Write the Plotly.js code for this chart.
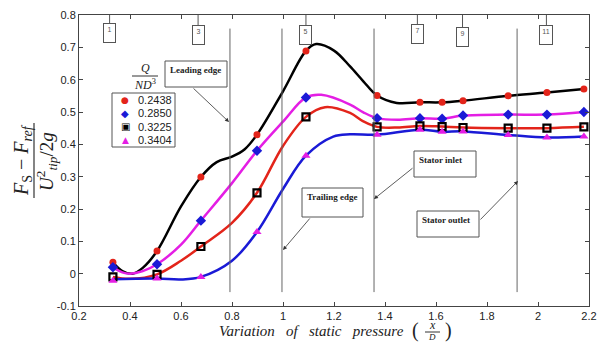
<!DOCTYPE html>
<html>
<head>
<meta charset="utf-8">
<script src="https://cdn.plot.ly/plotly-3.0.1.min.js"></script>
<style>html,body{margin:0;padding:0;background:#fff;}#chart{width:608px;height:342px;}</style>
</head>
<body>
<div id="chart"></div>
<script>
// ---- data ----
const probeX = [0.333, 0.506, 0.678, 0.898, 1.09, 1.369, 1.537, 1.624, 1.706, 1.883, 2.035, 2.18];
const flowLabels = ['0.2438', '0.2850', '0.3225', '0.3404'];
const q2438 = [0.035, 0.070, 0.299, 0.430, 0.689, 0.551, 0.530, 0.530, 0.535, 0.550, 0.560, 0.571];
const q2850 = [0.020, 0.029, 0.164, 0.380, 0.545, 0.481, 0.481, 0.479, 0.489, 0.492, 0.492, 0.500];
const q3225 = [-0.010, -0.002, 0.084, 0.250, 0.485, 0.454, 0.457, 0.455, 0.452, 0.450, 0.450, 0.454];
const q3404 = [-0.022, -0.015, -0.010, 0.129, 0.365, 0.430, 0.445, 0.439, 0.440, 0.429, 0.421, 0.424];

// fitted curves as drawn in the picture
const curve2438X = [0.333, 0.37, 0.41, 0.45, 0.506, 0.60, 0.678, 0.74, 0.80, 0.85, 0.898, 1.0, 1.09, 1.13, 1.20, 1.263, 1.315, 1.369, 1.446, 1.537, 1.624, 1.706, 1.883, 2.035, 2.18];
const curve2438Y = [0.035, 0.008, 0.000, 0.018, 0.070, 0.208, 0.299, 0.345, 0.362, 0.385, 0.430, 0.564, 0.689, 0.710, 0.690, 0.641, 0.595, 0.551, 0.528, 0.530, 0.530, 0.535, 0.550, 0.560, 0.571];
const curve2850X = [0.333, 0.37, 0.40, 0.45, 0.506, 0.60, 0.678, 0.80, 0.898, 1.0, 1.09, 1.15, 1.263, 1.315, 1.369, 1.45, 1.537, 1.624, 1.706, 1.883, 2.035, 2.18];
const curve2850Y = [0.020, 0.004, 0.000, 0.008, 0.029, 0.090, 0.164, 0.280, 0.380, 0.470, 0.545, 0.553, 0.523, 0.499, 0.481, 0.476, 0.481, 0.479, 0.489, 0.492, 0.492, 0.500];
const curve3225X = [0.333, 0.40, 0.506, 0.60, 0.678, 0.80, 0.898, 1.0, 1.09, 1.165, 1.263, 1.315, 1.369, 1.45, 1.537, 1.624, 1.706, 1.883, 2.035, 2.18];
const curve3225Y = [-0.010, -0.016, -0.002, 0.040, 0.084, 0.157, 0.250, 0.395, 0.485, 0.515, 0.497, 0.471, 0.454, 0.452, 0.457, 0.455, 0.452, 0.450, 0.450, 0.454];
const curve3404X = [0.333, 0.506, 0.60, 0.678, 0.80, 0.898, 1.0, 1.09, 1.197, 1.263, 1.369, 1.537, 1.624, 1.706, 1.883, 2.035, 2.18];
const curve3404Y = [-0.017, -0.015, -0.018, -0.010, 0.040, 0.129, 0.262, 0.365, 0.424, 0.431, 0.430, 0.445, 0.439, 0.440, 0.429, 0.421, 0.424];

const xTickVals = [0.2, 0.4, 0.6, 0.8, 1.0, 1.2, 1.4, 1.6, 1.8, 2.0, 2.2];
const xTickText = ['0.2', '0.4', '0.6', '0.8', '1', '1.2', '1.4', '1.6', '1.8', '2', '2.2'];
const yTickVals = [-0.1, 0, 0.1, 0.2, 0.3, 0.4, 0.5, 0.6, 0.7, 0.8];
const yTickText = ['-0.1', '0', '0.1', '0.2', '0.3', '0.4', '0.5', '0.6', '0.7', '0.8'];

const edgeLinesX = [0.792, 0.996, 1.357, 1.918];
const probeLabels = ['1', '3', '5', '7', '9', '11'];
const probeLabelX = [0.32, 0.667, 1.09, 1.527, 1.704, 2.033];

// ---- styling ----
const lineColors = ['#000000', '#e41ee4', '#e3241a', '#1a1ad6'];
const markerColors = ['#e3241a', '#1a1ad6', '#000000', '#e41ee4'];
const markerSymbols = ['circle', 'diamond', 'square-open', 'triangle-up'];
const markerSizes = [7, 8, 7, 8];

const curvesX = [curve2438X, curve2850X, curve3225X, curve3404X];
const curvesY = [curve2438Y, curve2850Y, curve3225Y, curve3404Y];
const seriesY = [q2438, q2850, q3225, q3404];

const traces = [];
for (let i = 0; i < 4; i++) {
  traces.push({
    x: curvesX[i], y: curvesY[i], type: 'scatter', mode: 'lines',
    line: {color: lineColors[i], width: 2.5, shape: 'spline', smoothing: 1},
    showlegend: false, hoverinfo: 'skip'
  });
}
for (let i = 0; i < 4; i++) {
  traces.push({
    x: probeX, y: seriesY[i], type: 'scatter', mode: 'markers', name: flowLabels[i],
    marker: {symbol: markerSymbols[i], size: markerSizes[i], color: markerColors[i],
             line: {color: markerColors[i], width: i === 2 ? 2.2 : 0}},
    showlegend: false
  });
}

const L = 79, R = 589, T = 15, B = 306;
const PX = p => (p - L) / (R - L);
const PY = p => (B - p) / (B - T);

const shapes = [];
const annotations = [];
const gray = '#555';

edgeLinesX.forEach(x => shapes.push({type: 'line', xref: 'x', yref: 'y', x0: x, x1: x, y0: -0.057, y1: 0.758,
  line: {color: '#666', width: 1}}));

const probeBoxTop = [23, 25, 25, 24, 27, 25];
probeLabelX.forEach((x, i) => {
  shapes.push({type: 'line', xref: 'x', yref: 'paper', x0: x, x1: x, y0: 1, y1: PY(probeBoxTop[i]),
    line: {color: gray, width: 1}});
  annotations.push({xref: 'x', yref: 'paper', x: x, y: PY(probeBoxTop[i]), xanchor: 'center', yanchor: 'top',
    text: probeLabels[i], showarrow: false, font: {family: 'Liberation Sans', size: 7, color: '#555'},
    bordercolor: gray, borderwidth: 1, borderpad: 2, width: i === 5 ? 8 : 7, height: 14, valign: 'top'});
});

// callout boxes
const boxes = [
  {t: 'Leading edge', x0: 165, y0: 61, w: 62, h: 26},
  {t: 'Stator inlet', x0: 414, y0: 151, w: 62, h: 26},
  {t: 'Trailing edge', x0: 302, y0: 188, w: 61, h: 29},
  {t: 'Stator outlet', x0: 417, y0: 211, w: 62, h: 26}
];
boxes.forEach(b => {
  shapes.push({type: 'rect', xref: 'paper', yref: 'paper', x0: PX(b.x0), x1: PX(b.x0 + b.w), y0: PY(b.y0), y1: PY(b.y0 + b.h),
    line: {color: gray, width: 1}, fillcolor: 'white'});
  annotations.push({xref: 'paper', yref: 'paper', x: PX(b.x0 + 3), y: PY(b.y0 + 2), xanchor: 'left', yanchor: 'top',
    text: '<b>' + b.t + '</b>', showarrow: false, font: {family: 'Liberation Serif', size: 9, color: '#222'}});
});
const arrows = [
  {tx: 192, ty: 87, hx: 229, hy: 122},
  {tx: 414, ty: 167, hx: 374, hy: 199},
  {tx: 311, ty: 217, hx: 283, hy: 250},
  {tx: 479, ty: 221, hx: 518, hy: 181}
];
arrows.forEach(a => annotations.push({xref: 'paper', yref: 'paper', x: PX(a.hx), y: PY(a.hy), ax: a.tx - a.hx, ay: a.ty - a.hy,
  text: '', showarrow: true, arrowhead: 2, arrowsize: 1, arrowwidth: 0.8, arrowcolor: '#333', standoff: 0}));

// legend
shapes.push({type: 'rect', xref: 'paper', yref: 'paper', x0: PX(112), x1: PX(175), y0: PY(93), y1: PY(147),
  line: {color: gray, width: 1}, fillcolor: 'white'});
const legSym = ['●', '◆', '▣', '▲'];
const legSymSize = [9, 10, 10, 9];
const legY = [100, 113, 127, 140];
for (let i = 0; i < 4; i++) {
  annotations.push({xref: 'paper', yref: 'paper', x: PX(125), y: PY(legY[i]), xanchor: 'center', yanchor: 'middle',
    text: legSym[i], showarrow: false,
    font: {family: 'DejaVu Sans', size: legSymSize[i], color: markerColors[i]}});
  annotations.push({xref: 'paper', yref: 'paper', x: PX(136), y: PY(legY[i]), xanchor: 'left', yanchor: 'middle',
    text: flowLabels[i], showarrow: false, font: {family: 'Liberation Sans', size: 11, color: '#222'}});
}
annotations.push({xref: 'paper', yref: 'paper', x: PX(145), y: PY(68), xanchor: 'center', yanchor: 'middle',
  text: '<i>Q</i>', showarrow: false, font: {family: 'Liberation Serif', size: 12, color: '#222'}});
shapes.push({type: 'line', xref: 'paper', yref: 'paper', x0: PX(132), x1: PX(158), y0: PY(76), y1: PY(76), line: {color: '#333', width: 1}});
annotations.push({xref: 'paper', yref: 'paper', x: PX(145), y: PY(84), xanchor: 'center', yanchor: 'middle',
  text: '<i>ND</i><sup>3</sup>', showarrow: false, font: {family: 'Liberation Serif', size: 12, color: '#222'}});

// y-axis title (fraction, rotated)
annotations.push({xref: 'paper', yref: 'paper', x: PX(22), y: PY(160), xanchor: 'center', yanchor: 'middle', textangle: -90,
  text: '<i>F</i><sub>S</sub> − <i>F</i><sub><i>ref</i></sub>', showarrow: false,
  font: {family: 'Liberation Serif', size: 20, color: '#222'}});
shapes.push({type: 'line', xref: 'paper', yref: 'paper', x0: PX(34), x1: PX(34), y0: PY(123), y1: PY(198), line: {color: '#333', width: 1.2}});
annotations.push({xref: 'paper', yref: 'paper', x: PX(46), y: PY(162), xanchor: 'center', yanchor: 'middle', textangle: -90,
  text: '<i>U</i><sup>2</sup><sub><i>tip</i></sub>/2<i>g</i>', showarrow: false,
  font: {family: 'Liberation Serif', size: 19, color: '#222'}});

// x-axis title
annotations.push({xref: 'paper', yref: 'paper', x: PX(217), y: PY(331), xanchor: 'left', yanchor: 'middle',
  text: '<i>Variation&nbsp;&nbsp; of&nbsp;&nbsp; static&nbsp;&nbsp; pressure</i>', showarrow: false,
  font: {family: 'Liberation Serif', size: 15, color: '#222'}});
annotations.push({xref: 'paper', yref: 'paper', x: PX(415), y: PY(330), xanchor: 'center', yanchor: 'middle',
  text: '(', showarrow: false, font: {family: 'Liberation Serif', size: 20, color: '#222'}});
annotations.push({xref: 'paper', yref: 'paper', x: PX(432), y: PY(325), xanchor: 'center', yanchor: 'middle',
  text: '<i>x</i>', showarrow: false, font: {family: 'Liberation Serif', size: 12, color: '#222'}});
shapes.push({type: 'line', xref: 'paper', yref: 'paper', x0: PX(425), x1: PX(440), y0: PY(332), y1: PY(332), line: {color: '#333', width: 1}});
annotations.push({xref: 'paper', yref: 'paper', x: PX(432), y: PY(337), xanchor: 'center', yanchor: 'middle',
  text: '<i>D</i>', showarrow: false, font: {family: 'Liberation Serif', size: 9, color: '#222'}});
annotations.push({xref: 'paper', yref: 'paper', x: PX(448), y: PY(330), xanchor: 'center', yanchor: 'middle',
  text: ')', showarrow: false, font: {family: 'Liberation Serif', size: 20, color: '#222'}});

const axisCommon = {
  showline: true, linecolor: '#444', linewidth: 1, mirror: 'ticks', ticks: 'inside', ticklen: 4, tickcolor: '#444',
  showgrid: false, zeroline: false, tickfont: {family: 'Liberation Sans', size: 11, color: '#222'}, fixedrange: true
};

const layout = {
  width: 608, height: 342,
  margin: {l: L, r: 608 - R, t: T, b: 342 - B, pad: 0},
  paper_bgcolor: 'white', plot_bgcolor: 'white',
  showlegend: false,
  xaxis: Object.assign({}, axisCommon, {range: [0.2, 2.2], tickmode: 'array', tickvals: xTickVals, ticktext: xTickText}),
  yaxis: Object.assign({}, axisCommon, {range: [-0.1, 0.8], tickmode: 'array', tickvals: yTickVals, ticktext: yTickText}),
  shapes: shapes,
  annotations: annotations
};

Plotly.newPlot('chart', traces, layout, {staticPlot: true, displayModeBar: false});
</script>
</body>
</html>
